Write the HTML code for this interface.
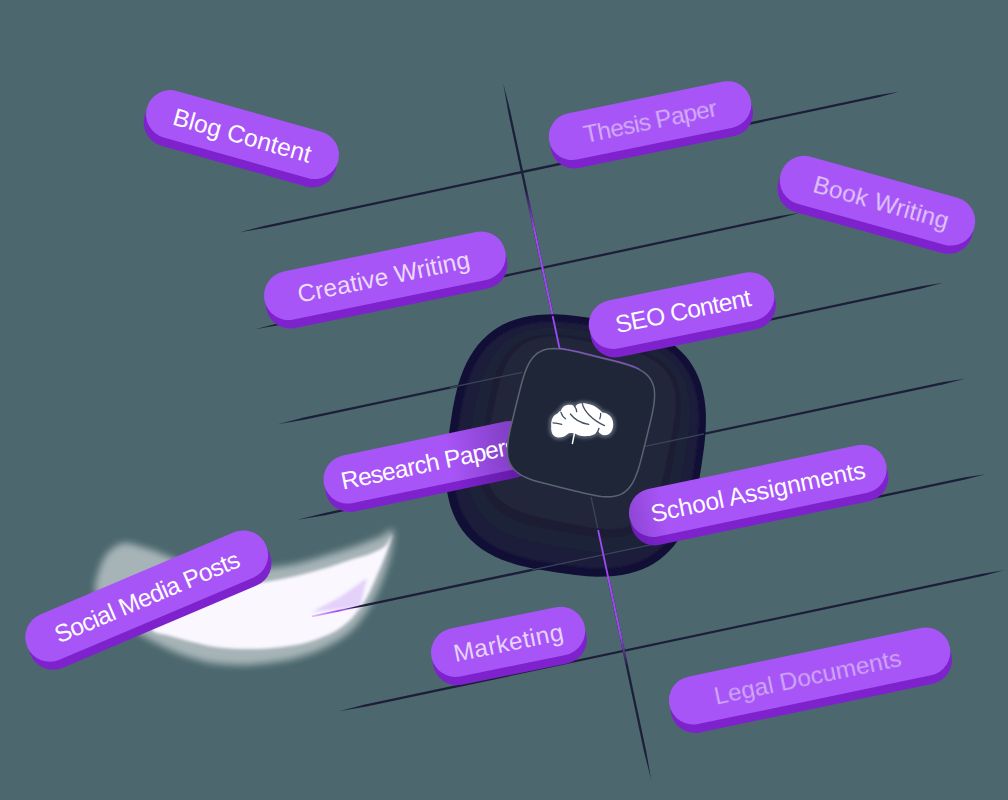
<!DOCTYPE html>
<html><head><meta charset="utf-8"><style>
html,body{margin:0;padding:0;background:#4c686e;}
body{width:1008px;height:800px;overflow:hidden;font-family:"Liberation Sans",sans-serif;}
svg{display:block;}
</style></head><body>
<svg width="1008" height="800" viewBox="0 0 1008 800" font-family="Liberation Sans, sans-serif">
<defs>
 <radialGradient id="blobg" cx="577" cy="432" r="140" gradientUnits="userSpaceOnUse"><stop offset="0" stop-color="#232a3c"/><stop offset="0.6" stop-color="#20253a"/><stop offset="0.9" stop-color="#1b1c37"/><stop offset="1" stop-color="#171538"/></radialGradient>
 <linearGradient id="shR" gradientUnits="userSpaceOnUse" x1="20" y1="0" x2="80" y2="0"><stop offset="0" stop-color="#2a0a50" stop-opacity="0"/><stop offset="1" stop-color="#2a0a50" stop-opacity="0.28"/></linearGradient>
 <linearGradient id="shS" gradientUnits="userSpaceOnUse" x1="-131" y1="0" x2="-95" y2="0"><stop offset="0" stop-color="#2a0a50" stop-opacity="0.2"/><stop offset="1" stop-color="#2a0a50" stop-opacity="0"/></linearGradient>
 <linearGradient id="pg1" gradientUnits="userSpaceOnUse" x1="0" y1="190" x2="0" y2="350"><stop offset="0" stop-color="#9d4af0" stop-opacity="0"/><stop offset="0.25" stop-color="#9d4af0" stop-opacity="1"/><stop offset="1" stop-color="#9d4af0"/></linearGradient>
 <linearGradient id="pg2" gradientUnits="userSpaceOnUse" x1="0" y1="515" x2="0" y2="665"><stop offset="0" stop-color="#9d4af0" stop-opacity="0"/><stop offset="0.1" stop-color="#9d4af0"/><stop offset="0.8" stop-color="#9d4af0"/><stop offset="1" stop-color="#9d4af0" stop-opacity="0"/></linearGradient>
 <filter id="tb" x="-5%" y="-20%" width="110%" height="140%"><feGaussianBlur stdDeviation="0.35"/></filter>
 <linearGradient id="pg3" gradientUnits="userSpaceOnUse" x1="312" y1="0" x2="356" y2="0"><stop offset="0" stop-color="#a855f7" stop-opacity="0.3"/><stop offset="0.6" stop-color="#9d4af0" stop-opacity="1"/><stop offset="1" stop-color="#9d4af0" stop-opacity="0"/></linearGradient>
 <filter id="bl05" x="-10%" y="-10%" width="120%" height="120%"><feGaussianBlur stdDeviation="1.2"/></filter>
 <filter id="bl1" x="-50%" y="-50%" width="200%" height="200%"><feGaussianBlur stdDeviation="1.5"/></filter>
 <filter id="bl2" x="-30%" y="-30%" width="160%" height="160%"><feGaussianBlur stdDeviation="2.5"/></filter>
 <filter id="bl3" x="-30%" y="-30%" width="160%" height="160%"><feGaussianBlur stdDeviation="3.5"/></filter>
</defs>
<rect width="1008" height="800" fill="#4c686e"/>

<path d="M 393.0 530.0 C 394.7 533.3 392.8 546.2 390.0 557.0 C 387.2 567.8 382.2 583.0 376.0 595.0 C 369.8 607.0 361.7 620.2 353.0 629.0 C 344.3 637.8 333.5 643.2 324.0 648.0 C 314.5 652.8 305.3 655.5 296.0 658.0 C 286.7 660.5 277.3 661.8 268.0 663.0 C 258.7 664.2 249.3 665.0 240.0 665.0 C 230.7 665.0 220.0 664.2 212.0 663.0 C 204.0 661.8 198.2 659.8 192.0 658.0 C 185.8 656.2 180.7 654.3 175.0 652.0 C 169.3 649.7 163.8 647.0 158.0 644.0 C 152.2 641.0 146.7 638.0 140.0 634.0 C 133.3 630.0 124.7 625.3 118.0 620.0 C 111.3 614.7 103.8 607.3 100.0 602.0 C 96.2 596.7 95.2 593.3 95.0 588.0 C 94.8 582.7 97.2 575.5 99.0 570.0 C 100.8 564.5 103.2 559.0 106.0 555.0 C 108.8 551.0 112.7 548.0 116.0 546.0 C 119.3 544.0 122.2 543.0 126.0 543.0 C 129.8 543.0 134.7 544.8 139.0 546.0 C 143.3 547.2 147.7 548.5 152.0 550.0 C 156.3 551.5 158.7 552.5 165.0 555.0 C 171.3 557.5 179.2 562.2 190.0 565.0 C 200.8 567.8 217.0 571.5 230.0 572.0 C 243.0 572.5 257.0 569.3 268.0 568.0 C 279.0 566.7 286.7 566.0 296.0 564.0 C 305.3 562.0 314.5 558.8 324.0 556.0 C 333.5 553.2 343.7 550.2 353.0 547.0 C 362.3 543.8 373.3 539.8 380.0 537.0 C 386.7 534.2 391.3 526.7 393.0 530.0 Z" fill="#ffffff" opacity="0.5" filter="url(#bl3)"/>
<path d="M 392.0 534.0 C 392.5 534.3 389.5 543.5 388.0 548.0 C 386.5 552.5 385.2 555.7 383.0 561.0 C 380.8 566.3 377.5 574.3 375.0 580.0 C 372.5 585.7 370.5 590.3 368.0 595.0 C 365.5 599.7 363.2 603.7 360.0 608.0 C 356.8 612.3 353.3 617.0 349.0 621.0 C 344.7 625.0 339.7 628.8 334.0 632.0 C 328.3 635.2 321.3 637.8 315.0 640.0 C 308.7 642.2 303.8 643.6 296.0 645.0 C 288.2 646.4 277.3 647.8 268.0 648.5 C 258.7 649.2 248.8 649.2 240.0 649.0 C 231.2 648.8 223.0 648.2 215.0 647.0 C 207.0 645.8 199.5 643.8 192.0 642.0 C 184.5 640.2 176.7 638.0 170.0 636.0 C 163.3 634.0 155.3 634.3 152.0 630.0 C 148.7 625.7 143.7 615.8 150.0 610.0 C 156.3 604.2 179.2 598.3 190.0 595.0 C 200.8 591.7 206.7 591.6 215.0 590.0 C 223.3 588.4 231.2 586.9 240.0 585.5 C 248.8 584.1 258.7 583.1 268.0 581.5 C 277.3 579.9 286.7 578.2 296.0 576.0 C 305.3 573.8 314.5 571.3 324.0 568.5 C 333.5 565.7 345.2 561.5 353.0 559.0 C 360.8 556.5 365.7 555.7 371.0 553.5 C 376.3 551.3 381.5 549.2 385.0 546.0 C 388.5 542.8 391.5 533.7 392.0 534.0 Z" fill="#faf7ff" filter="url(#bl1)"/>
<polygon points="312,612 340,597 367,578 360,607" fill="#c39af2" opacity="0.4" filter="url(#bl1)"/>

<polygon points="238.90,232.40 266.52,227.69 877.72,97.40 899.00,91.69 877.24,95.16 266.05,225.44" fill="#1d1f3a"/>
<polygon points="255.10,329.30 282.72,324.57 778.73,218.43 800.00,212.70 778.25,216.18 282.24,322.32" fill="#1d1f3a"/>
<polygon points="277.70,424.30 305.33,419.60 921.72,288.57 943.00,282.87 921.24,286.32 304.85,417.35" fill="#1d1f3a"/>
<polygon points="297.50,519.80 325.13,515.13 943.71,384.35 965.00,378.68 943.24,382.10 324.66,512.88" fill="#1d1f3a"/>
<polygon points="338.00,610.83 365.63,606.17 964.21,479.87 985.50,474.20 963.74,477.62 365.16,603.92" fill="#1d1f3a"/>
<polygon points="338.90,711.30 366.53,706.62 982.72,575.93 1004.00,570.24 982.24,573.68 366.05,704.37" fill="#1d1f3a"/>
<polygon points="503.20,83.10 508.31,112.68 643.84,750.89 651.20,780.00 646.09,750.42 510.56,112.21" fill="#1d1f3a"/>
<line x1="525.90" y1="190" x2="559.88" y2="350" stroke="url(#pg1)" stroke-width="2.1"/>
<line x1="594.92" y1="515" x2="626.78" y2="665" stroke="url(#pg2)" stroke-width="2.1"/>
<line x1="312" y1="616.31" x2="356" y2="607.03" stroke="url(#pg3)" stroke-width="1.8"/>

<path d="M 701.7 464.1 698.8 482.6 696.5 494.1 694.1 503.9 691.5 512.5 688.6 520.3 685.4 527.5 681.9 534.1 678.1 540.1 674.0 545.7 669.5 550.7 664.8 555.3 659.7 559.5 654.3 563.2 648.6 566.4 642.5 569.3 636.0 571.6 629.2 573.6 621.9 575.0 614.2 576.1 605.9 576.6 597.0 576.7 587.0 576.2 575.4 575.0 557.0 572.5 538.7 569.6 527.3 567.3 517.6 564.9 509.0 562.3 501.3 559.4 494.2 556.2 487.7 552.7 481.7 548.9 476.2 544.7 471.2 540.3 466.6 535.5 462.5 530.4 458.9 524.9 455.7 519.2 452.9 513.0 450.5 506.5 448.7 499.6 447.2 492.3 446.2 484.6 445.7 476.2 445.7 467.2 446.2 457.1 447.3 445.4 449.9 426.9 452.8 408.4 455.1 396.9 457.5 387.1 460.1 378.5 463.0 370.7 466.2 363.5 469.7 356.9 473.5 350.9 477.6 345.3 482.1 340.3 486.8 335.7 491.9 331.5 497.3 327.8 503.0 324.6 509.1 321.7 515.6 319.4 522.4 317.4 529.7 316.0 537.4 314.9 545.7 314.4 554.6 314.3 564.6 314.8 576.2 316.0 594.6 318.5 612.9 321.4 624.3 323.7 634.0 326.1 642.6 328.7 650.3 331.6 657.4 334.8 663.9 338.3 669.9 342.1 675.4 346.3 680.4 350.7 685.0 355.5 689.1 360.6 692.7 366.1 695.9 371.8 698.7 378.0 701.1 384.5 702.9 391.4 704.4 398.7 705.4 406.4 705.9 414.8 705.9 423.8 705.4 433.9 704.3 445.6 Z" fill="#120f37"/>
<g filter="url(#bl05)">
<path d="M 694.7 462.5 691.9 480.6 689.7 491.6 687.4 500.8 685.0 509.0 682.3 516.3 679.4 523.0 676.1 529.1 672.6 534.7 668.9 539.9 664.8 544.5 660.4 548.8 655.7 552.6 650.7 556.0 645.4 559.0 639.8 561.6 633.9 563.8 627.5 565.5 620.8 566.9 613.6 567.8 605.9 568.3 597.4 568.3 588.0 567.8 576.9 566.7 558.9 564.2 540.9 561.4 530.0 559.2 520.8 557.0 512.8 554.5 505.5 551.8 498.9 548.9 492.8 545.6 487.3 542.1 482.2 538.3 477.5 534.2 473.3 529.8 469.6 525.1 466.2 520.1 463.2 514.8 460.7 509.1 458.5 503.1 456.8 496.7 455.5 489.9 454.6 482.7 454.1 474.9 454.2 466.4 454.7 456.9 455.8 445.7 458.3 427.5 461.1 409.4 463.3 398.4 465.6 389.2 468.0 381.0 470.7 373.7 473.6 367.0 476.9 360.9 480.4 355.3 484.1 350.1 488.2 345.5 492.6 341.2 497.3 337.4 502.3 334.0 507.6 331.0 513.2 328.4 519.1 326.2 525.5 324.5 532.2 323.1 539.4 322.2 547.1 321.7 555.6 321.7 565.0 322.2 576.1 323.3 594.1 325.8 612.1 328.6 623.0 330.8 632.2 333.0 640.2 335.5 647.5 338.2 654.1 341.1 660.2 344.4 665.7 347.9 670.8 351.7 675.5 355.8 679.7 360.2 683.4 364.9 686.8 369.9 689.8 375.2 692.3 380.9 694.5 386.9 696.2 393.3 697.5 400.1 698.4 407.3 698.9 415.1 698.8 423.6 698.3 433.1 697.2 444.3 Z" fill="#1e1c3b"/>
<path d="M 685.0 457.8 681.8 476.3 679.6 486.6 677.4 495.1 675.1 502.4 672.7 508.9 670.0 514.8 667.2 520.1 664.1 525.0 660.7 529.4 657.2 533.4 653.4 537.0 649.3 540.2 645.0 543.1 640.3 545.5 635.4 547.6 630.2 549.4 624.7 550.7 618.7 551.7 612.4 552.4 605.4 552.6 597.8 552.4 589.2 551.7 578.9 550.4 560.5 547.5 542.2 544.3 532.0 542.1 523.6 540.0 516.4 537.7 509.9 535.2 504.1 532.6 498.8 529.7 494.0 526.6 489.6 523.2 485.7 519.7 482.1 515.8 478.9 511.7 476.1 507.3 473.7 502.7 471.6 497.8 469.9 492.5 468.6 486.9 467.6 480.9 467.0 474.5 466.8 467.5 467.0 459.9 467.7 451.2 469.0 440.7 472.0 422.2 475.2 403.7 477.4 393.4 479.6 384.9 481.9 377.6 484.3 371.1 487.0 365.2 489.8 359.9 492.9 355.0 496.3 350.6 499.8 346.6 503.6 343.0 507.7 339.8 512.0 336.9 516.7 334.5 521.6 332.4 526.8 330.6 532.3 329.3 538.3 328.3 544.6 327.6 551.6 327.4 559.2 327.6 567.8 328.3 578.1 329.6 596.5 332.5 614.8 335.7 625.0 337.9 633.4 340.0 640.6 342.3 647.1 344.8 652.9 347.4 658.2 350.3 663.0 353.4 667.4 356.8 671.3 360.3 674.9 364.2 678.1 368.3 680.9 372.7 683.3 377.3 685.4 382.2 687.1 387.5 688.4 393.1 689.4 399.1 690.0 405.5 690.2 412.5 690.0 420.1 689.3 428.8 688.0 439.3 Z" fill="#1f2038"/>
<path d="M 674.4 453.5 670.7 472.6 668.6 482.2 666.6 489.8 664.5 496.2 662.3 501.9 660.1 506.9 657.6 511.4 655.0 515.5 652.2 519.2 649.2 522.5 646.0 525.4 642.6 528.1 638.9 530.3 635.1 532.3 630.9 533.9 626.5 535.3 621.8 536.3 616.8 537.0 611.3 537.3 605.3 537.4 598.6 537.0 590.9 536.2 581.3 534.8 562.3 531.4 543.4 527.7 533.9 525.6 526.4 523.6 520.1 521.6 514.5 519.4 509.5 517.1 505.0 514.6 501.0 512.0 497.3 509.2 494.1 506.2 491.2 503.0 488.6 499.5 486.4 495.9 484.4 492.0 482.8 487.8 481.5 483.4 480.5 478.6 479.9 473.5 479.5 468.0 479.5 461.9 479.9 455.2 480.7 447.4 482.2 437.7 485.6 418.5 489.3 399.4 491.4 389.8 493.4 382.2 495.5 375.8 497.7 370.1 499.9 365.1 502.4 360.6 505.0 356.5 507.8 352.8 510.8 349.5 514.0 346.6 517.4 343.9 521.1 341.7 524.9 339.7 529.1 338.1 533.5 336.7 538.2 335.7 543.2 335.0 548.7 334.7 554.7 334.6 561.4 335.0 569.1 335.8 578.7 337.2 597.7 340.6 616.6 344.3 626.1 346.4 633.6 348.4 639.9 350.4 645.5 352.6 650.5 354.9 655.0 357.4 659.0 360.0 662.7 362.8 665.9 365.8 668.8 369.0 671.4 372.5 673.6 376.1 675.6 380.0 677.2 384.2 678.5 388.6 679.5 393.4 680.1 398.5 680.5 404.0 680.5 410.1 680.1 416.8 679.3 424.6 677.8 434.3 Z" fill="#1c1d35"/>
<path d="M 668.7 450.9 664.6 470.5 662.4 479.6 660.4 486.7 658.4 492.7 656.4 497.9 654.3 502.5 652.0 506.6 649.6 510.2 647.0 513.5 644.3 516.5 641.4 519.1 638.3 521.4 635.0 523.3 631.5 525.0 627.7 526.4 623.8 527.5 619.5 528.3 614.9 528.9 609.8 529.1 604.3 528.9 598.1 528.5 590.9 527.5 581.8 526.0 562.4 522.2 543.0 518.1 534.0 516.0 527.0 514.0 521.1 512.0 516.0 510.0 511.4 507.8 507.4 505.5 503.7 503.1 500.5 500.5 497.6 497.8 495.0 494.9 492.8 491.8 490.8 488.4 489.2 484.9 487.8 481.1 486.7 477.1 486.0 472.8 485.5 468.1 485.3 463.1 485.4 457.5 485.9 451.2 486.9 443.9 488.4 434.7 492.3 415.1 496.4 395.5 498.6 386.4 500.6 379.3 502.6 373.3 504.6 368.1 506.7 363.5 509.0 359.4 511.4 355.8 514.0 352.5 516.7 349.5 519.6 346.9 522.7 344.6 526.0 342.7 529.5 341.0 533.3 339.6 537.2 338.5 541.5 337.7 546.1 337.1 551.2 336.9 556.7 337.1 562.9 337.5 570.1 338.5 579.2 340.0 598.6 343.8 618.0 347.9 627.0 350.0 634.0 352.0 639.9 354.0 645.0 356.0 649.6 358.2 653.6 360.5 657.3 362.9 660.5 365.5 663.4 368.2 666.0 371.1 668.2 374.2 670.2 377.6 671.8 381.1 673.2 384.9 674.3 388.9 675.0 393.2 675.5 397.9 675.7 402.9 675.6 408.5 675.1 414.8 674.1 422.1 672.6 431.3 Z" fill="#21253a"/>
</g>

<line x1="450" y1="387.67" x2="522" y2="372.37" stroke="#3a4658" stroke-width="1.3"/>
<line x1="645" y1="446.33" x2="704" y2="433.86" stroke="#3a4658" stroke-width="1.3"/>
<line x1="532" y1="569.89" x2="700" y2="534.44" stroke="#3a4658" stroke-width="1.3"/>
<line x1="591.10" y1="497" x2="597.68" y2="528" stroke="#3a4658" stroke-width="1.3"/>
<line x1="552.66" y1="316" x2="559.67" y2="349" stroke="#9d4af0" stroke-width="1.8"/>
<line x1="598.11" y1="530" x2="608.73" y2="580" stroke="#9d4af0" stroke-width="1.8"/>
<g transform="translate(242.50 134.60) rotate(15.7)"><rect x="-99.25" y="-15.55" width="198.50" height="48.30" rx="24.15" fill="#7e22ce"/>
<rect x="-99.25" y="-24.15" width="198.50" height="48.30" rx="24.15" fill="#a855f7"/><g transform="scale(1.0 1)"><text x="0.0" y="9.3" text-anchor="middle" font-size="24.5" textLength="142.5" lengthAdjust="spacing" fill="#ffffff">Blog Content</text></g></g>
<g transform="translate(650.00 120.60) rotate(-11.6)"><rect x="-102.90" y="-14.90" width="205.80" height="47.00" rx="23.50" fill="#7e22ce"/>
<rect x="-102.90" y="-23.50" width="205.80" height="47.00" rx="23.50" fill="#a855f7"/><g transform="scale(1.0 1)" filter="url(#tb)"><text x="0.0" y="9.3" text-anchor="middle" font-size="24.5" textLength="135.7" lengthAdjust="spacing" fill="#d3aef8">Thesis Paper</text></g></g>
<g transform="translate(877.50 200.70) rotate(15.6)"><rect x="-100.50" y="-15.75" width="201.00" height="48.70" rx="24.35" fill="#7e22ce"/>
<rect x="-100.50" y="-24.35" width="201.00" height="48.70" rx="24.35" fill="#a855f7"/><g transform="scale(1.0 1)" filter="url(#tb)"><text x="4.0" y="9.3" text-anchor="middle" font-size="24.5" textLength="139.7" lengthAdjust="spacing" fill="#dfc6fa">Book Writing</text></g></g>
<g transform="translate(384.90 275.80) rotate(-11.6)"><rect x="-122.85" y="-15.90" width="245.70" height="49.00" rx="24.50" fill="#7e22ce"/>
<rect x="-122.85" y="-24.50" width="245.70" height="49.00" rx="24.50" fill="#a855f7"/><g transform="scale(1.0 1)"><text x="-1.5" y="9.3" text-anchor="middle" font-size="24.5" textLength="175.2" lengthAdjust="spacing" fill="#eadafc">Creative Writing</text></g></g>
<g transform="translate(429.00 462.30) rotate(-11.8)"><rect x="-107.25" y="-15.75" width="214.50" height="48.70" rx="24.35" fill="#7e22ce"/>
<rect x="-107.25" y="-24.35" width="214.50" height="48.70" rx="24.35" fill="#a855f7"/><rect x="-107.25" y="-24.35" width="214.50" height="57.30" rx="24.35" fill="url(#shR)"/><g transform="scale(1.0 1)"><text x="0.0" y="9.3" text-anchor="middle" font-size="24.5" textLength="179.6" lengthAdjust="spacing" fill="#ffffff">Research Papers</text></g></g>
<path d="M 646.3 438.7 641.3 458.6 639.4 465.6 637.8 470.7 636.3 474.8 634.9 478.3 633.4 481.3 631.9 484.0 630.3 486.3 628.7 488.3 626.9 490.1 625.1 491.7 623.2 493.0 621.1 494.1 618.9 495.1 616.5 495.8 613.9 496.3 611.2 496.7 608.2 496.8 604.8 496.7 601.1 496.4 596.8 495.8 591.6 494.8 584.5 493.3 564.8 488.5 545.2 483.6 538.2 481.7 533.1 480.2 529.0 478.7 525.6 477.3 522.6 475.8 520.0 474.3 517.7 472.7 515.7 471.0 513.9 469.3 512.4 467.4 511.1 465.5 510.0 463.4 509.1 461.2 508.3 458.8 507.8 456.2 507.5 453.4 507.4 450.4 507.5 447.0 507.8 443.3 508.4 438.9 509.4 433.6 510.9 426.5 515.7 406.7 520.7 386.8 522.6 379.8 524.2 374.7 525.7 370.6 527.1 367.1 528.6 364.1 530.1 361.4 531.7 359.1 533.3 357.1 535.1 355.3 536.9 353.7 538.8 352.4 540.9 351.3 543.1 350.3 545.5 349.6 548.1 349.1 550.8 348.7 553.8 348.6 557.2 348.7 560.9 349.0 565.2 349.6 570.4 350.6 577.5 352.1 597.2 356.9 616.8 361.8 623.8 363.7 628.9 365.2 633.0 366.7 636.4 368.1 639.4 369.6 642.0 371.1 644.3 372.7 646.3 374.4 648.1 376.1 649.6 378.0 650.9 379.9 652.0 382.0 652.9 384.2 653.7 386.6 654.2 389.2 654.5 392.0 654.6 395.0 654.5 398.4 654.2 402.1 653.6 406.5 652.6 411.8 651.1 418.9 Z" fill="#1f2638" stroke="#5b6572" stroke-width="1.5"/>
<polyline points="559.3,348.2 560.9,348.4 562.5,348.6 564.3,348.9 566.2,349.2 568.2,349.5 570.4,350.0 572.9,350.5 575.8,351.1 579.3,351.9 584.0,353.0 597.2,356.3 610.3,359.5 615.0,360.7 618.5,361.6 621.3,362.4 623.8,363.1 626.0,363.7 627.9,364.3 629.7,364.9 631.4,365.5 633.0,366.1 634.4,366.7 635.8,367.3 637.0,367.8 638.3,368.4 639.4,369.0" stroke="#9d4af0" stroke-width="1.1" fill="none" stroke-opacity="0.7"/>

<path d="M 551.2 426 C 550.8 419.5, 553.5 415, 557.5 413.6 C 558.6 411.8, 559.8 411, 561 410.8 C 561.8 406.2, 566.5 404.2, 571 404.8 C 572.8 405.2, 574.2 406, 575.2 407 C 576 404.8, 578.5 403.4, 582 403.3 C 588.5 403.2, 595.5 405.5, 599.2 409.6 C 600.5 410.6, 601.6 411.6, 602.2 412.6 C 608.6 413, 613.4 417.8, 613.2 424.6 C 613.3 431, 609.6 435.4, 604.8 435.3 C 601.8 435.3, 599.4 433.6, 598 431 C 595.8 434.6, 590.5 436.3, 585 436.2 C 580.5 436.2, 577.2 435.2, 575 433.6 C 572.2 432.6, 569.2 432.6, 567.2 434.5 C 564 437.6, 558 438.6, 554.5 436.2 C 551.6 434.2, 550.9 430, 551.2 426 Z" fill="none" stroke="#6b7585" stroke-width="5" stroke-opacity="0.7" filter="url(#bl1)"/>
<path d="M 551.2 426 C 550.8 419.5, 553.5 415, 557.5 413.6 C 558.6 411.8, 559.8 411, 561 410.8 C 561.8 406.2, 566.5 404.2, 571 404.8 C 572.8 405.2, 574.2 406, 575.2 407 C 576 404.8, 578.5 403.4, 582 403.3 C 588.5 403.2, 595.5 405.5, 599.2 409.6 C 600.5 410.6, 601.6 411.6, 602.2 412.6 C 608.6 413, 613.4 417.8, 613.2 424.6 C 613.3 431, 609.6 435.4, 604.8 435.3 C 601.8 435.3, 599.4 433.6, 598 431 C 595.8 434.6, 590.5 436.3, 585 436.2 C 580.5 436.2, 577.2 435.2, 575 433.6 C 572.2 432.6, 569.2 432.6, 567.2 434.5 C 564 437.6, 558 438.6, 554.5 436.2 C 551.6 434.2, 550.9 430, 551.2 426 Z" fill="#ffffff"/>
<path d="M 553 422.8 C 556 423, 559 423.6, 561.7 424.4 M 560.9 412.1 C 561.8 415, 563.5 417.5, 565.6 418.8 M 574.4 406.1 C 575.8 407.8, 576.6 409.7, 576.7 411.7 M 570.4 414 C 574 419, 580 423, 588.7 424.4 M 582.3 403.7 C 584 411, 592 420, 604.5 425.6 M 600.6 413.3 C 600.8 415, 600.5 417, 599.8 418.8 M 599 428.3 C 598.5 430, 597.8 431.6, 596.6 433.1" stroke="#435063" stroke-width="1.3" fill="none" stroke-linecap="round"/>
<path d="M 574.4 433.5 L 572.4 443.4" stroke="#ffffff" stroke-width="1.5" stroke-linecap="round"/>

<g transform="translate(681.50 310.60) rotate(-11.5)"><rect x="-94.15" y="-15.90" width="188.30" height="49.00" rx="24.50" fill="#7e22ce"/>
<rect x="-94.15" y="-24.50" width="188.30" height="49.00" rx="24.50" fill="#a855f7"/><g transform="scale(1.0 1)"><text x="1.5" y="9.3" text-anchor="middle" font-size="24.5" textLength="138.0" lengthAdjust="spacing" fill="#ffffff">SEO Content</text></g></g>
<g transform="translate(757.80 490.90) rotate(-11.8)"><rect x="-131.10" y="-15.60" width="262.20" height="48.40" rx="24.20" fill="#7e22ce"/>
<rect x="-131.10" y="-24.20" width="262.20" height="48.40" rx="24.20" fill="#a855f7"/><rect x="-131.10" y="-24.20" width="262.20" height="57.00" rx="24.20" fill="url(#shS)"/><g transform="scale(1.0 1)"><text x="0.0" y="9.3" text-anchor="middle" font-size="24.5" textLength="218.7" lengthAdjust="spacing" fill="#ffffff">School Assignments</text></g></g>
<g transform="translate(146.70 596.10) rotate(-23.0)"><rect x="-129.80" y="-16.00" width="259.60" height="49.20" rx="24.60" fill="#7e22ce"/>
<rect x="-129.80" y="-24.60" width="259.60" height="49.20" rx="24.60" fill="#a855f7"/><g transform="scale(1.0 1)"><text x="0.0" y="9.3" text-anchor="middle" font-size="24.5" textLength="198.5" lengthAdjust="spacing" fill="#ffffff">Social Media Posts</text></g></g>
<g transform="translate(508.10 641.80) rotate(-11.5)"><rect x="-78.15" y="-15.80" width="156.30" height="48.80" rx="24.40" fill="#7e22ce"/>
<rect x="-78.15" y="-24.40" width="156.30" height="48.80" rx="24.40" fill="#a855f7"/><g transform="scale(1.0 1)"><text x="0.0" y="9.3" text-anchor="middle" font-size="24.5" textLength="111.4" lengthAdjust="spacing" fill="#e6d3fc">Marketing</text></g></g>
<g transform="translate(809.60 676.00) rotate(-11.8)"><rect x="-143.15" y="-15.60" width="286.30" height="48.40" rx="24.20" fill="#7e22ce"/>
<rect x="-143.15" y="-24.20" width="286.30" height="48.40" rx="24.20" fill="#a855f7"/><g transform="scale(1.0 1)" filter="url(#tb)"><text x="-2.0" y="9.3" text-anchor="middle" font-size="24.5" textLength="190.5" lengthAdjust="spacing" fill="#cea8f6">Legal Documents</text></g></g>
</svg>
</body></html>
